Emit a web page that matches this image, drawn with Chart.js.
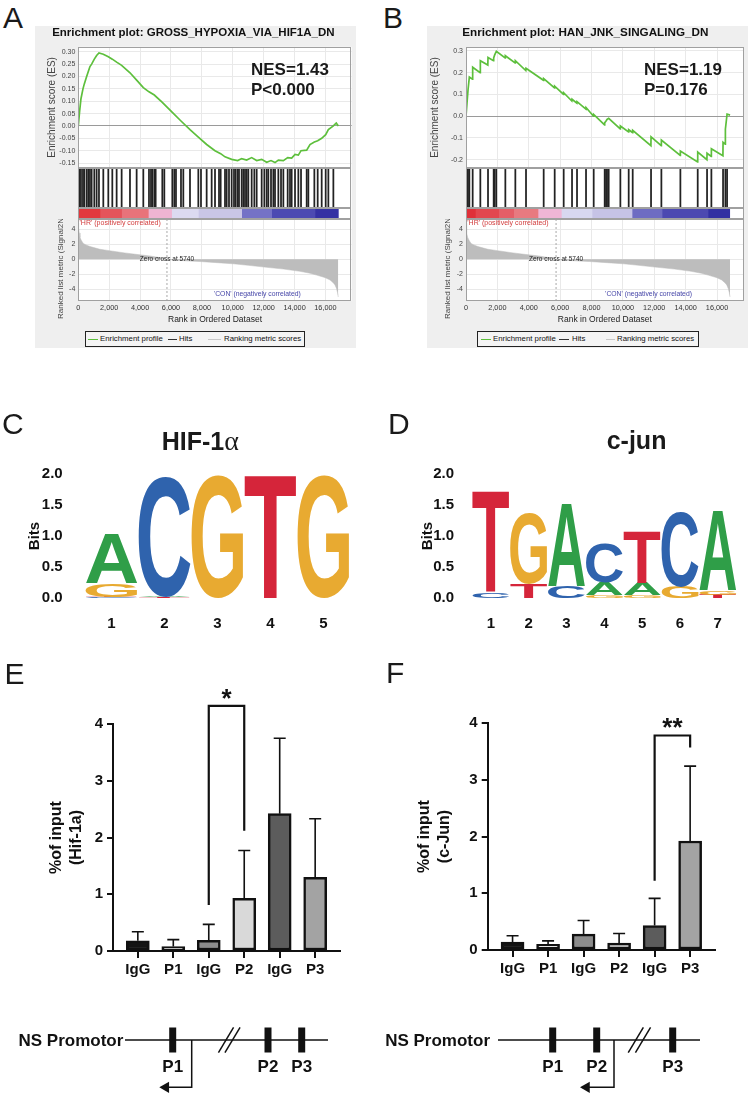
<!DOCTYPE html>
<html>
<head>
<meta charset="utf-8">
<title>GSEA, motifs and ChIP-qPCR</title>
<script src="https://cdn.jsdelivr.net/npm/chart.js@4.4.1/dist/chart.umd.min.js"></script>
<style>
  html, body { margin: 0; padding: 0; background: #fff; }
  body { position: relative; width: 750px; height: 1096px; overflow: hidden; font-family: "Liberation Sans", Arial, sans-serif; color: #111; }
  canvas { position: absolute; }
  .gsea-bg { position: absolute; background: #efefef; }
  .over { position: absolute; z-index: 5; white-space: nowrap; }
  .panel { font-size: 30px; line-height: 30px; color: #1a1a1a; }
  .nes { font-weight: bold; font-size: 17px; line-height: 20px; color: #1a1a1a; }
  .motif { font-weight: bold; font-size: 25px; line-height: 30px; color: #1a1a1a; }
  .motif .alpha { font-family: "Liberation Serif", "DejaVu Serif", serif; font-weight: normal; font-size: 28px; }
  .lg { position: absolute; z-index: 5; box-sizing: border-box; height: 16px; border: 1px solid #222; background: #f4f4f4; font-size: 7.8px; color: #111; }
  .lg span { position: absolute; top: 0; line-height: 14px; white-space: nowrap; }
  .lg i { position: absolute; top: 6.5px; height: 1.3px; }
</style>
</head>
<body>
<div class="gsea-bg" style="left:35px;top:26px;width:321px;height:322px"></div>
<div class="gsea-bg" style="left:427px;top:26px;width:321px;height:322px"></div>

<div class="over panel" style="left:3px;top:2.8px">A</div>
<div class="over panel" style="left:383px;top:2.8px">B</div>
<div class="over panel" style="left:2px;top:409.4px">C</div>
<div class="over panel" style="left:388px;top:409.4px">D</div>
<div class="over panel" style="left:4.5px;top:659px">E</div>
<div class="over panel" style="left:386px;top:657.8px">F</div>

<div class="over nes" style="left:251px;top:59.6px">NES=1.43<br>P&lt;0.000</div>
<div class="over nes" style="left:644px;top:59.6px">NES=1.19<br>P=0.176</div>

<div class="lg" style="left:85px;top:331px;width:220px">
  <i style="left:2px;width:10px;background:#5dbf3c"></i><span style="left:14px">Enrichment profile</span>
  <i style="left:82px;width:9px;background:#333"></i><span style="left:93px">Hits</span>
  <i style="left:122px;width:13px;background:#c8c8c8"></i><span style="left:138px">Ranking metric scores</span>
</div>
<div class="lg" style="left:477px;top:331px;width:222px">
  <i style="left:3px;width:10px;background:#5dbf3c"></i><span style="left:15px">Enrichment profile</span>
  <i style="left:81px;width:10px;background:#333"></i><span style="left:94px">Hits</span>
  <i style="left:128px;width:9px;background:#c8c8c8"></i><span style="left:139px">Ranking metric scores</span>
</div>

<div class="over motif" style="left:161.7px;top:425.9px">HIF-1<span class="alpha">α</span></div>
<div class="over motif" style="left:606.7px;top:425.3px">c-jun</div>

<script>
// ---------- shared ranked gene list (A and B use the same dataset) ----------
const RANK_MAX = 17700;
const rankTicks = [0, 2000, 4000, 6000, 8000, 10000, 12000, 14000, 16000];
const zeroCross = 5740;
const metricRank  = [0, 20, 60, 108, 200, 324, 500, 755, 1000, 1400, 2000, 2480, 3000, 3560, 4100, 4640, 5200, 5740, 6500, 7880, 9000, 10040, 11000, 12200, 13300, 14350, 15000, 15430, 16000, 16300, 16500, 16620, 16720, 16780, 16830];
const metricValue = [4.8, 4.2, 3.5, 2.9, 2.5, 2.1, 1.9, 1.7, 1.55, 1.33, 1.15, 1.0, 0.85, 0.7, 0.57, 0.44, 0.25, 0.0, -0.15, -0.3, -0.45, -0.6, -0.8, -1.07, -1.3, -1.6, -1.85, -2.1, -2.45, -2.75, -3.1, -3.4, -3.9, -4.4, -5.0];
const metricTicks = [-4, -2, 0, 2, 4];
const metricNoteText = ["'HR' (positively correlated)", 'Zero cross at 5740', "'CON' (negatively correlated)"];

// ---------- A: GROSS_HYPOXIA_VIA_HIF1A_DN ----------
const esRankA  = [0, 86, 173, 302, 389, 540, 648, 755, 863, 1036, 1187, 1338, 1619, 1943, 2202, 2482, 2806, 3346, 3777, 4209, 4576, 4921, 5439, 6087, 6648, 7231, 7771, 8310, 8850, 9217, 9497, 9929, 10318, 10577, 10900, 11224, 11548, 11872, 12196, 12476, 12735, 12951, 13275, 13555, 13814, 14030, 14246, 14419, 14786, 15000, 15282, 15498, 15757, 16016, 16189, 16513, 16700, 16836];
const esScoreA = [0, 0.06, 0.11, 0.15, 0.17, 0.2, 0.22, 0.24, 0.25, 0.27, 0.285, 0.295, 0.29, 0.28, 0.27, 0.258, 0.245, 0.215, 0.185, 0.155, 0.138, 0.125, 0.095, 0.055, 0.02, -0.015, -0.045, -0.075, -0.1, -0.112, -0.125, -0.135, -0.14, -0.132, -0.138, -0.128, -0.14, -0.135, -0.147, -0.14, -0.148, -0.138, -0.14, -0.128, -0.13, -0.115, -0.118, -0.1, -0.098, -0.075, -0.065, -0.06, -0.05, -0.035, -0.015, 0.0, 0.012, 0.0];
const esTicksA = [0.3, 0.25, 0.2, 0.15, 0.1, 0.05, 0, -0.05, -0.1, -0.15];
const hitsA = [86, 173, 302, 389, 540, 648, 755, 863, 1036, 1187, 1338, 1619, 1943, 2202, 2482, 2806, 3346, 3777, 4209, 4576, 4706, 4792, 4921, 5008, 5439, 5569, 6087, 6216, 6324, 6648, 6799, 7231, 7771, 7943, 8310, 8634, 8850, 9109, 9217, 9497, 9605, 9756, 9929, 10080, 10188, 10318, 10404, 10577, 10685, 10793, 10900, 11008, 11224, 11397, 11548, 11872, 12044, 12196, 12303, 12476, 12627, 12735, 12951, 13124, 13275, 13555, 13706, 13814, 14030, 14246, 14419, 14786, 14894, 15282, 15498, 15757, 16016, 16189, 16513];
const colorEndsA = [1403, 2806, 4533, 6044, 7771, 10577, 12519, 15325, 16836];
const colorsA = ['#e2383e', '#e4545b', '#e8737a', '#eeb4d2', '#dcdaf0', '#c9c6e6', '#7472c6', '#4c4ab2', '#3431a3'];

// ---------- B: HAN_JNK_SINGALING_DN ----------
const esRankB  = [0, 64, 128, 213, 410, 425, 900, 914, 1390, 1403, 1750, 1764, 1828, 1934, 2495, 2508, 3130, 3145, 3810, 3825, 4940, 4951, 5640, 5653, 6215, 6226, 6745, 6758, 7065, 7076, 7640, 7650, 8130, 8139, 8830, 8840, 8925, 8989, 9095, 9830, 9839, 10360, 10370, 10615, 10625, 11785, 11794, 12445, 12453, 13655, 13664, 14760, 14769, 15355, 15364, 15630, 15640, 16375, 16384, 16525, 16533, 16640, 16830];
const esScoreB = [0, 0.06, 0.12, 0.18, 0.17, 0.225, 0.2, 0.255, 0.235, 0.27, 0.255, 0.268, 0.282, 0.298, 0.268, 0.278, 0.245, 0.255, 0.21, 0.22, 0.165, 0.173, 0.13, 0.138, 0.1, 0.108, 0.07, 0.078, 0.06, 0.067, 0.033, 0.04, 0.0, 0.008, -0.04, -0.03, -0.022, -0.015, -0.01, -0.058, -0.045, -0.072, -0.062, -0.075, -0.065, -0.135, -0.095, -0.135, -0.11, -0.18, -0.16, -0.21, -0.165, -0.2, -0.17, -0.185, -0.15, -0.182, -0.12, -0.128, -0.06, 0.01, 0.005];
const esTicksB = [0.3, 0.2, 0.1, 0, -0.1, -0.2];
const hitsB = [64, 128, 213, 425, 914, 1403, 1764, 1828, 1934, 2508, 3145, 3825, 4951, 5653, 6226, 6758, 7076, 7650, 8139, 8840, 8925, 8989, 9095, 9839, 10370, 10625, 11794, 12453, 13664, 14769, 15364, 15640, 16384, 16533, 16640];
const colorEndsB = [595, 2083, 3039, 4590, 6078, 8033, 10583, 12495, 15428, 16809];
const colorsB = ['#df3039', '#e2474f', '#e55e67', '#e87a80', '#efb6d6', '#d8d8f0', '#c6c3e6', '#6e6cc2', '#4c49b1', '#3230a2'];

// ---------- C / D: sequence logos (letters bottom -> top, heights in bits) ----------
const bitsTicks = [0, 0.5, 1, 1.5, 2];
const logoCPositions = ['1', '2', '3', '4', '5'];
const logoCLetters = [['C', 'T', 'G', 'A'], ['T', 'A', 'C'], ['G'], ['T'], ['G']];
const logoCBits    = [[0.01, 0.01, 0.21, 0.8], [0.01, 0.01, 1.93], [1.98], [1.98], [1.98]];
const logoDPositions = ['1', '2', '3', '4', '5', '6', '7'];
const logoDLetters = [['C', 'T'], ['T', 'G'], ['C', 'A'], ['G', 'A', 'C'], ['G', 'A', 'T'], ['G', 'C'], ['T', 'G', 'A']];
const logoDBits    = [[0.09, 1.63], [0.23, 1.14], [0.18, 1.34], [0.05, 0.2, 0.63], [0.05, 0.2, 0.82], [0.18, 1.2], [0.05, 0.07, 1.28]];
const letterColors = { A: '#2f9e48', C: '#2f63ad', G: '#e8aa31', T: '#d5253a' };

// ---------- E / F: ChIP-qPCR ----------
const chipLabels = ['IgG', 'P1', 'IgG', 'P2', 'IgG', 'P3'];
const chipTicks = [0, 1, 2, 3, 4];
const hifMean = [0.18, 0.08, 0.19, 0.93, 2.42, 1.30];
const hifErr  = [0.16, 0.12, 0.28, 0.84, 1.33, 1.03];
const junMean = [0.14, 0.10, 0.28, 0.12, 0.43, 1.92];
const junErr  = [0.11, 0.06, 0.24, 0.17, 0.48, 1.32];
const hifSig = { from: 2, to: 3, left: 0.81, right: 2.12, top: 4.32, text: '*' };
const junSig = { from: 4, to: 5, left: 1.22, right: 3.57, top: 3.78, text: '**' };
const chipFills = ['#141414', '#f0f0f0', '#8c8c8c', '#d9d9d9', '#5c5c5c', '#a3a3a3'];

// ---------- promoter schematics ----------
const promoterLabels = ['P1', 'P2', 'P3'];
const promoterSitesE = [172.7, 268, 301.7];
const promoterSitesF = [177.7, 221.7, 297.7];

const GREEN = '#5dbf3c';
const GRID = '#e9e9e9';
const FONT = '"Liberation Sans", Arial, sans-serif';

Chart.defaults.font.family = FONT;
Chart.defaults.animation = false;
Chart.defaults.responsive = false;
Chart.defaults.layout.autoPadding = false;
Chart.defaults.plugins.legend.display = false;
Chart.defaults.plugins.tooltip.enabled = false;

// fixed axis sizes so stacked panels line up exactly
const fixW = w => s => { s.width = w; s.paddingTop = 0; s.paddingBottom = 0; };
const fixH = h => s => { s.height = h; s.paddingLeft = 0; s.paddingRight = 0; };
const setTicks = arr => s => { s.ticks = arr.map(v => ({ value: v })); };

function canvasAt(left, top, w, h) {
    const c = document.createElement('canvas');
    c.width = w;
    c.height = h;
    c.style.cssText = `left:${left}px;top:${top}px;width:${w}px;height:${h}px`;
    document.body.appendChild(c);
    return c;
}

const plotBg = {
    id: 'plotBg',
    beforeDraw(chart) {
        const { ctx, chartArea: ca } = chart;
        ctx.save();
        ctx.fillStyle = '#fff';
        ctx.fillRect(ca.left, ca.top, ca.width, ca.height);
        ctx.restore();
    }
};

const frame = {
    id: 'frame',
    afterDraw(chart) {
        const { ctx, chartArea: ca } = chart;
        ctx.save();
        ctx.strokeStyle = '#a0a0a0';
        ctx.lineWidth = 1;
        ctx.strokeRect(Math.round(ca.left) + 0.5, Math.round(ca.top) + 0.5, Math.round(ca.width) - 1, Math.round(ca.height) - 1);
        ctx.restore();
    }
};

const metricNotes = {
    id: 'metricNotes',
    afterDatasetsDraw(chart) {
        const { ctx, chartArea: ca, scales: { x, y } } = chart;
        ctx.save();
        const zx = x.getPixelForValue(zeroCross);
        ctx.strokeStyle = '#a8a8a8';
        ctx.lineWidth = 1;
        ctx.setLineDash([2, 2]);
        ctx.beginPath();
        ctx.moveTo(zx, ca.top);
        ctx.lineTo(zx, ca.bottom);
        ctx.stroke();
        ctx.setLineDash([]);
        ctx.textBaseline = 'middle';
        const spots = [
            { x: 80, y: 4.8, align: 'left', color: '#d23c3c', size: 7 },
            { x: zeroCross, y: 0, align: 'center', color: '#222', size: 6.5 },
            { x: 14400, y: -4.6, align: 'right', color: '#4646a8', size: 6.8 }
        ];
        metricNoteText.forEach((t, i) => {
            const s = spots[i];
            ctx.font = `${s.size}px ${FONT}`;
            ctx.fillStyle = s.color;
            ctx.textAlign = s.align;
            ctx.fillText(t, x.getPixelForValue(s.x), y.getPixelForValue(s.y));
        });
        ctx.restore();
    }
};

function gseaPanel(p) {
    // running enrichment score
    new Chart(canvasAt(p.left, 26, p.width, 142), {
        type: 'line',
        data: { datasets: [{ data: p.esRank.map((r, i) => ({ x: r, y: p.esScore[i] })), borderColor: GREEN, borderWidth: 1.7, pointRadius: 0, tension: 0 }] },
        options: {
            layout: { padding: { left: 0, right: p.padR, top: 0, bottom: 0 } },
            plugins: {
                title: { display: true, text: p.title, color: '#111', font: { size: p.titleSize, weight: 'bold' }, padding: { top: 0, bottom: 7 } }
            },
            scales: {
                x: { type: 'linear', min: 0, max: RANK_MAX, afterBuildTicks: setTicks(rankTicks), ticks: { display: false }, grid: { color: GRID, drawTicks: false }, border: { display: false }, afterFit: fixH(0) },
                y: {
                    min: p.esMin, max: p.esMax, afterBuildTicks: setTicks(p.esTicks),
                    ticks: { font: { size: 7 }, color: '#444', padding: 3, callback: v => v.toFixed(p.esDigits) },
                    grid: { drawTicks: false, color: c => (c.tick && c.tick.value === 0 ? '#9a9a9a' : GRID) },
                    border: { display: false },
                    title: { display: true, text: 'Enrichment score (ES)', color: '#444', font: { size: 10 }, padding: { top: p.esTitlePad, bottom: 0 } },
                    afterFit: fixW(p.yW)
                }
            }
        },
        plugins: [plotBg, frame]
    });

    // hits
    new Chart(canvasAt(p.left, 168, p.width, 40), {
        type: 'bar',
        data: { datasets: [{ data: p.hits.map(r => ({ x: r, y: 1 })), backgroundColor: '#222', barThickness: 1.1 }] },
        options: {
            layout: { padding: { left: p.yW, right: p.padR, top: 0, bottom: 0 } },
            scales: {
                x: { type: 'linear', display: false, offset: false, grid: { offset: false }, min: 0, max: RANK_MAX },
                y: { display: false, min: 0, max: 1 }
            }
        },
        plugins: [plotBg, frame]
    });

    // red-blue rank colour bar
    new Chart(canvasAt(p.left, 208, p.width, 11), {
        type: 'bar',
        data: {
            labels: [''],
            datasets: p.colorEnds.map((end, i) => ({
                data: [[i ? p.colorEnds[i - 1] : 0, end]],
                backgroundColor: p.colors[i], grouped: false, barPercentage: 1, categoryPercentage: 1
            }))
        },
        options: {
            indexAxis: 'y',
            layout: { padding: { left: p.yW, right: p.padR, top: 0, bottom: 0 } },
            scales: { x: { type: 'linear', display: false, min: 0, max: RANK_MAX }, y: { display: false } }
        },
        plugins: [plotBg, frame]
    });

    // ranked list metric
    new Chart(canvasAt(p.left, 219, p.width, 108), {
        type: 'line',
        data: { datasets: [{ data: metricRank.map((r, i) => ({ x: r, y: metricValue[i] })), fill: 'origin', backgroundColor: '#bdbdbd', borderColor: '#bdbdbd', borderWidth: 0.5, pointRadius: 0, tension: 0 }] },
        options: {
            layout: { padding: { left: 0, right: p.padR, top: 0, bottom: 0 } },
            scales: {
                x: {
                    type: 'linear', min: 0, max: RANK_MAX, afterBuildTicks: setTicks(rankTicks),
                    ticks: { font: { size: 7.3 }, color: '#333', padding: 2.9, maxRotation: 0, autoSkip: false, callback: v => v.toLocaleString('en-US') },
                    grid: { color: GRID, drawTicks: false }, border: { display: false },
                    title: { display: true, text: 'Rank in Ordered Dataset', color: '#222', font: { size: 8.5 }, padding: { top: 0, bottom: 1.9 } },
                    afterFit: fixH(26.3)
                },
                y: {
                    min: -5.5, max: 5.35, afterBuildTicks: setTicks(metricTicks),
                    ticks: { font: { size: 7 }, color: '#444', padding: 3 },
                    grid: { color: GRID, drawTicks: false }, border: { display: false },
                    title: { display: true, text: 'Ranked list metric (Signal2Noise)', color: '#444', font: { size: 8 }, padding: { top: p.metricTitlePad, bottom: 0 } },
                    afterFit: fixW(p.yW)
                }
            }
        },
        plugins: [plotBg, metricNotes, frame]
    });
}

gseaPanel({
    left: 35, width: 321, yW: 43.3, padR: 4.3, titleSize: 11.5,
    title: 'Enrichment plot: GROSS_HYPOXIA_VIA_HIF1A_DN',
    esRank: esRankA, esScore: esScoreA, esMin: -0.17, esMax: 0.32, esTicks: esTicksA, esDigits: 2,
    hits: hitsA, colorEnds: colorEndsA, colors: colorsA, esTitlePad: 11, metricTitlePad: 20.9
});
gseaPanel({
    left: 427, width: 321, yW: 39, padR: 4.3, titleSize: 11.7,
    title: 'Enrichment plot: HAN_JNK_SINGALING_DN',
    esRank: esRankB, esScore: esScoreB, esMin: -0.238, esMax: 0.318, esTicks: esTicksB, esDigits: 1,
    hits: hitsB, colorEnds: colorEndsB, colors: colorsB, esTitlePad: 2, metricTitlePad: 15.9
});

// ---------- sequence logos ----------
function drawGlyph(ctx, ch, x, y, w, h, color) {
    ctx.save();
    ctx.font = `bold 200px ${FONT}`;
    const m = ctx.measureText(ch);
    const gw = m.actualBoundingBoxLeft + m.actualBoundingBoxRight;
    const gh = m.actualBoundingBoxAscent + m.actualBoundingBoxDescent;
    ctx.translate(x, y);
    ctx.scale(w / gw, h / gh);
    ctx.fillStyle = color;
    ctx.textAlign = 'left';
    ctx.textBaseline = 'alphabetic';
    ctx.fillText(ch, m.actualBoundingBoxLeft, m.actualBoundingBoxAscent);
    ctx.restore();
}

const logoLetters = {
    id: 'logoLetters',
    afterDatasetsDraw(chart) {
        const ctx = chart.ctx;
        chart.data.datasets.forEach((ds, k) => {
            chart.getDatasetMeta(k).data.forEach((bar, i) => {
                const ch = ds.letters[i];
                const top = Math.min(bar.y, bar.base);
                const h = Math.abs(bar.base - bar.y);
                if (!ch || h < 0.4) return;
                drawGlyph(ctx, ch, bar.x - bar.width / 2, top, bar.width, h, letterColors[ch]);
            });
        });
    }
};

function logoChart(left, yW, padR, tickPad, titlePad, positions, letters, bits) {
    const layers = Math.max(...letters.map(l => l.length));
    const datasets = [];
    for (let k = 0; k < layers; k++) {
        datasets.push({
            data: bits.map(b => b[k] || 0),
            letters: letters.map(l => l[k] || null),
            backgroundColor: 'rgba(0,0,0,0)',
            barPercentage: 0.975,
            categoryPercentage: 1
        });
    }
    new Chart(canvasAt(left, 410, 375, 218), {
        type: 'bar',
        data: { labels: positions, datasets },
        options: {
            layout: { padding: { left: 0, right: padR, top: 64, bottom: 0 } },
            scales: {
                x: { stacked: true, grid: { display: false }, border: { display: false }, ticks: { font: { size: 15, weight: 'bold' }, color: '#111', padding: 9 }, afterFit: fixH(30) },
                y: {
                    stacked: true, min: 0, max: 2, afterBuildTicks: setTicks(bitsTicks),
                    grid: { display: false }, border: { display: false },
                    ticks: { font: { size: 15, weight: 'bold' }, color: '#111', padding: tickPad, callback: v => v.toFixed(1) },
                    title: { display: true, text: 'Bits', color: '#111', font: { size: 15, weight: 'bold' }, padding: { top: titlePad, bottom: 0 } },
                    afterFit: fixW(yW)
                }
            }
        },
        plugins: [logoLetters]
    });
}

logoChart(0, 85, 25, 14.3, 26, logoCPositions, logoCLetters, logoCBits);
logoChart(375, 97, 13.3, 10, 44, logoDPositions, logoDLetters, logoDBits);

// ---------- ChIP-qPCR bars ----------
const errorBars = {
    id: 'errorBars',
    afterDatasetsDraw(chart) {
        const { ctx, scales: { y } } = chart;
        chart.data.datasets.forEach((ds, k) => {
            if (!ds.errors) return;
            chart.getDatasetMeta(k).data.forEach((bar, i) => {
                const yTop = y.getPixelForValue(ds.data[i].y + ds.errors[i]);
                ctx.save();
                ctx.strokeStyle = '#111';
                ctx.lineWidth = 1.6;
                ctx.beginPath();
                ctx.moveTo(bar.x, bar.y);
                ctx.lineTo(bar.x, yTop);
                ctx.moveTo(bar.x - 6, yTop);
                ctx.lineTo(bar.x + 6, yTop);
                ctx.stroke();
                ctx.restore();
            });
        });
    }
};

const sigBracket = sig => ({
    id: 'sigBracket',
    afterDraw(chart) {
        const { ctx, scales: { x, y } } = chart;
        const x1 = x.getPixelForValue(sig.from);
        const x2 = x.getPixelForValue(sig.to);
        const yt = y.getPixelForValue(sig.top);
        ctx.save();
        ctx.strokeStyle = '#111';
        ctx.lineWidth = 2.2;
        ctx.beginPath();
        ctx.moveTo(x1, y.getPixelForValue(sig.left));
        ctx.lineTo(x1, yt);
        ctx.lineTo(x2, yt);
        ctx.lineTo(x2, y.getPixelForValue(sig.right));
        ctx.stroke();
        ctx.fillStyle = '#111';
        ctx.font = `bold 26px ${FONT}`;
        ctx.textAlign = 'center';
        ctx.textBaseline = 'alphabetic';
        ctx.fillText(sig.text, (x1 + x2) / 2, yt + 1);
        ctx.restore();
    }
});

function chipChart(left, padTop, xH, yW, titlePad, mean, err, yTitle, sig) {
    new Chart(canvasAt(left, 660, 375, 330), {
        type: 'bar',
        data: {
            datasets: [{
                data: mean.map((v, i) => ({ x: i, y: v })),
                errors: err,
                backgroundColor: chipFills,
                borderColor: '#111',
                borderWidth: 2.5,
                borderSkipped: false,
                barThickness: 23
            }]
        },
        options: {
            layout: { padding: { left: 0, right: 35, top: padTop, bottom: 0 } },
            scales: {
                x: {
                    type: 'linear', min: -0.7, max: 5.7, offset: false, afterBuildTicks: setTicks([0, 1, 2, 3, 4, 5]),
                    ticks: { font: { size: 15, weight: 'bold' }, color: '#111', padding: 3, autoSkip: false, maxRotation: 0, callback: v => chipLabels[v] },
                    grid: { drawOnChartArea: false, offset: false, tickLength: 7, color: '#111', lineWidth: 2 },
                    border: { display: true, color: '#111', width: 2 },
                    afterFit: fixH(xH)
                },
                y: {
                    min: 0, max: 4, afterBuildTicks: setTicks(chipTicks),
                    ticks: { font: { size: 15, weight: 'bold' }, color: '#111', padding: 4 },
                    grid: { drawOnChartArea: false, tickLength: 6, color: '#111', lineWidth: 2 },
                    border: { display: true, color: '#111', width: 2 },
                    title: { display: true, text: yTitle, color: '#111', font: { size: 16, weight: 'bold', lineHeight: 1.25 }, padding: { top: titlePad, bottom: 0 } },
                    afterFit: fixW(yW)
                }
            }
        },
        plugins: [errorBars, sigBracket(sig)]
    });
}

chipChart(0, 64, 39, 113, 46.7, hifMean, hifErr, ['%of input', '(Hif-1a)'], hifSig);
chipChart(375, 63, 40, 112.7, 40, junMean, junErr, ['%of input', '(c-Jun)'], junSig);

// ---------- NS promoter schematics ----------
const promoterText = (sites, nameX) => ({
    id: 'promoterText',
    afterDraw(chart) {
        const { ctx, scales: { x, y } } = chart;
        ctx.save();
        ctx.fillStyle = '#111';
        ctx.font = `bold 17px ${FONT}`;
        ctx.textBaseline = 'middle';
        ctx.textAlign = 'right';
        ctx.fillText('NS Promotor', x.getPixelForValue(nameX), y.getPixelForValue(0) + 1);
        ctx.textAlign = 'center';
        promoterLabels.forEach((t, i) => ctx.fillText(t, x.getPixelForValue(sites[i]), y.getPixelForValue(-27.7)));
        ctx.restore();
    }
});

function promoterChart(left, p) {
    new Chart(canvasAt(left, 1010, 375, 86), {
        type: 'scatter',
        data: {
            datasets: [
                { data: [{ x: p.start, y: 0 }, { x: p.end, y: 0 }], showLine: true, borderColor: '#111', borderWidth: 1.6, pointRadius: 0 },
                { data: p.sites.map(s => ({ x: s, y: 0 })), pointStyle: 'line', pointRotation: 90, pointRadius: 12.5, pointBorderWidth: 7, pointBorderColor: '#111' },
                { data: p.breaks.map(s => ({ x: s, y: 0 })), pointStyle: 'line', pointRotation: -59, pointRadius: 14.7, pointBorderWidth: 1.5, pointBorderColor: '#111' },
                { data: [{ x: p.tss, y: 0 }, { x: p.tss, y: -47.3 }, { x: p.arrowTip + 4, y: -47.3 }], showLine: true, borderColor: '#111', borderWidth: 1.5, pointRadius: 0 },
                { data: [{ x: p.arrowTip + 6.5, y: -47.3 }], pointStyle: 'triangle', pointRotation: -90, pointRadius: 6.5, pointBackgroundColor: '#111', pointBorderWidth: 0 }
            ]
        },
        options: {
            layout: { padding: 0 },
            scales: { x: { type: 'linear', display: false, min: 0, max: 375 }, y: { display: false, min: -56, max: 30 } }
        },
        plugins: [promoterText(p.sites, p.nameX)]
    });
}

promoterChart(0, { start: 125, end: 328, sites: promoterSitesE, breaks: [226, 232.5], tss: 191.7, arrowTip: 159.3, nameX: 123.3 });
promoterChart(375, { start: 123, end: 325, sites: promoterSitesF, breaks: [260.8, 268], tss: 239, arrowTip: 205, nameX: 115 });
</script>
</body>
</html>
